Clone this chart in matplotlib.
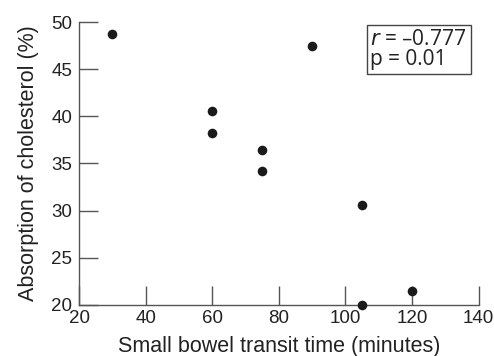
import matplotlib
matplotlib.use("Agg")
import matplotlib.pyplot as plt
from matplotlib.patches import Rectangle

transit_time = [30, 60, 60, 75, 75, 90, 105, 105, 120]
absorption = [48.7, 40.6, 38.2, 36.4, 34.2, 47.5, 30.6, 20.0, 21.5]
x_ticks = [20, 40, 60, 80, 100, 120, 140]
y_ticks = [20, 25, 30, 35, 40, 45, 50]

plt.rcParams['font.family'] = ['Liberation Sans', 'DejaVu Sans']

fig = plt.figure(figsize=(4.94, 3.56), dpi=100)
ax = fig.add_axes([0.16, 0.144, 0.809, 0.794])
ax.scatter(transit_time, absorption, s=48, color='#1a1a1a', zorder=3, clip_on=False, linewidths=0)
ax.set_xlim(20, 140)
ax.set_ylim(20, 50)
ax.set_xticks(x_ticks)
ax.set_yticks(y_ticks)
for s in ['top', 'right']:
    ax.spines[s].set_visible(False)
for s in ['left', 'bottom']:
    ax.spines[s].set_color('#555555')
    ax.spines[s].set_linewidth(1.0)
ax.tick_params(direction='in', length=14, width=1.0, color='#555555', labelsize=13.5, labelcolor='#222222', pad=4)
ax.tick_params(axis='y', pad=5)
ax.set_xlabel('Small bowel transit time (minutes)', fontsize=15.5, color='#222222', labelpad=6)
ax.set_ylabel('Absorption of cholesterol (%)', fontsize=15.5, color='#222222', labelpad=9)

# annotation box
ax.add_patch(Rectangle((0.72, 0.816), 0.261, 0.173, transform=ax.transAxes, fill=True,
                       facecolor='white', edgecolor='#444444', linewidth=1.0, zorder=4))
ax.text(0.728, 0.903, '$\\it{r}$ = \u20130.777\np = 0.01', transform=ax.transAxes,
        fontsize=15, family=['Open Sans', 'DejaVu Sans'], color='#222222',
        ha='left', va='center', linespacing=0.95, zorder=5)

fig.savefig('out.png', dpi=100)
